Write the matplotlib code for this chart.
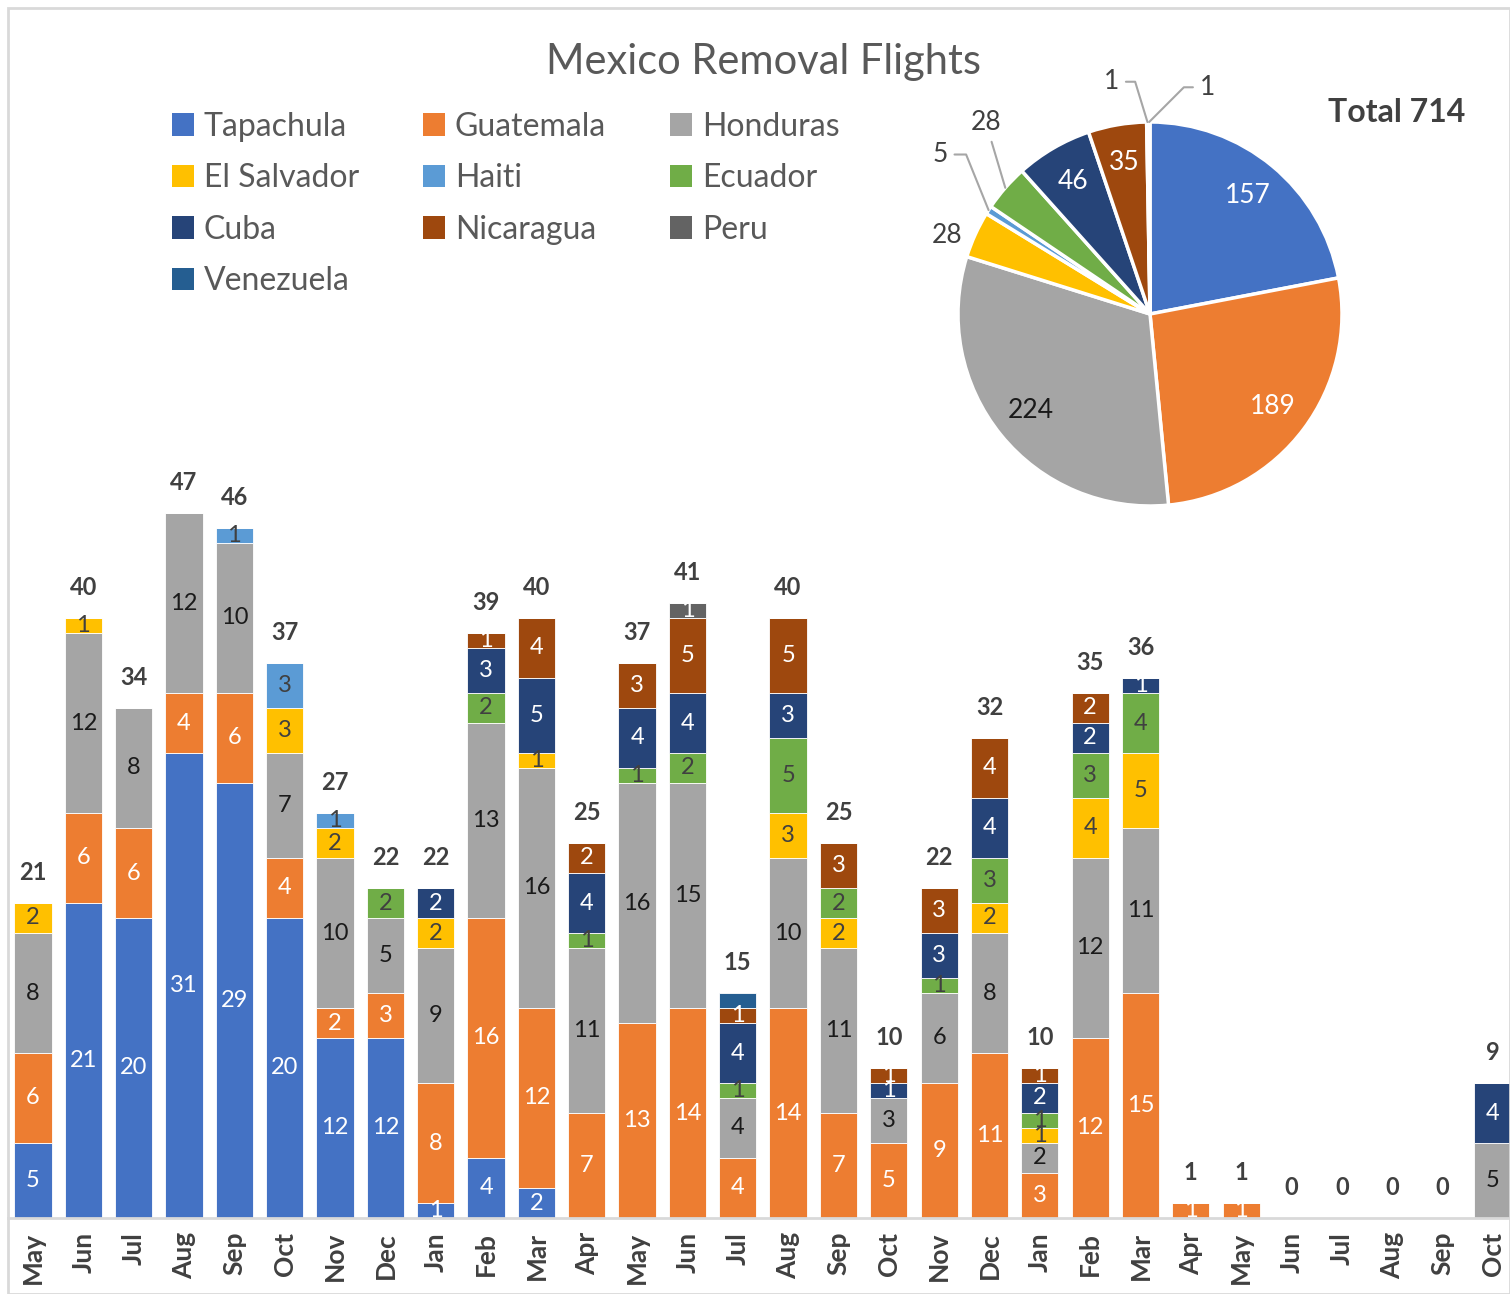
import matplotlib
matplotlib.use('Agg')
import matplotlib.pyplot as plt
import numpy as np
from matplotlib.patches import Patch, Rectangle

plt.rcParams['font.family'] = ['Lato', 'DejaVu Sans']

months = ['May', 'Jun', 'Jul', 'Aug', 'Sep', 'Oct', 'Nov', 'Dec', 'Jan', 'Feb', 'Mar', 'Apr',
          'May', 'Jun', 'Jul', 'Aug', 'Sep', 'Oct', 'Nov', 'Dec', 'Jan', 'Feb', 'Mar', 'Apr',
          'May', 'Jun', 'Jul', 'Aug', 'Sep', 'Oct']

tapachula   = [5, 21, 20, 31, 29, 20, 12, 12, 1, 4, 2, 0, 0, 0, 0, 0, 0, 0, 0, 0, 0, 0, 0, 0, 0, 0, 0, 0, 0, 0]
guatemala   = [6, 6, 6, 4, 6, 4, 2, 3, 8, 16, 12, 7, 13, 14, 4, 14, 7, 5, 9, 11, 3, 12, 15, 1, 1, 0, 0, 0, 0, 0]
honduras    = [8, 12, 8, 12, 10, 7, 10, 5, 9, 13, 16, 11, 16, 15, 4, 10, 11, 3, 6, 8, 2, 12, 11, 0, 0, 0, 0, 0, 0, 5]
el_salvador = [2, 1, 0, 0, 0, 3, 2, 0, 2, 0, 1, 0, 0, 0, 0, 3, 2, 0, 0, 2, 1, 4, 5, 0, 0, 0, 0, 0, 0, 0]
haiti       = [0, 0, 0, 0, 1, 3, 1, 0, 0, 0, 0, 0, 0, 0, 0, 0, 0, 0, 0, 0, 0, 0, 0, 0, 0, 0, 0, 0, 0, 0]
ecuador     = [0, 0, 0, 0, 0, 0, 0, 2, 0, 2, 0, 1, 1, 2, 1, 5, 2, 0, 1, 3, 1, 3, 4, 0, 0, 0, 0, 0, 0, 0]
cuba        = [0, 0, 0, 0, 0, 0, 0, 0, 2, 3, 5, 4, 4, 4, 4, 3, 0, 1, 3, 4, 2, 2, 1, 0, 0, 0, 0, 0, 0, 4]
nicaragua   = [0, 0, 0, 0, 0, 0, 0, 0, 0, 1, 4, 2, 3, 5, 1, 5, 3, 1, 3, 4, 1, 2, 0, 0, 0, 0, 0, 0, 0, 0]
peru        = [0, 0, 0, 0, 0, 0, 0, 0, 0, 0, 0, 0, 0, 1, 0, 0, 0, 0, 0, 0, 0, 0, 0, 0, 0, 0, 0, 0, 0, 0]
venezuela   = [0, 0, 0, 0, 0, 0, 0, 0, 0, 0, 0, 0, 0, 0, 1, 0, 0, 0, 0, 0, 0, 0, 0, 0, 0, 0, 0, 0, 0, 0]

names = ['Tapachula', 'Guatemala', 'Honduras', 'El Salvador', 'Haiti',
         'Ecuador', 'Cuba', 'Nicaragua', 'Peru', 'Venezuela']
series = [tapachula, guatemala, honduras, el_salvador, haiti,
          ecuador, cuba, nicaragua, peru, venezuela]
colors = ['#4472C4', '#ED7D31', '#A5A5A5', '#FFC000', '#5B9BD5',
          '#70AD47', '#264478', '#9E480E', '#636363', '#255E91']
label_colors = ['white', 'white', '#1a1a1a', '#404040', '#404040',
                '#404040', 'white', 'white', 'white', None]

W, H = 1510, 1294
fig = plt.figure(figsize=(W / 100, H / 100), dpi=100)

# outer frame
fig.patches.append(Rectangle((8 / W, 0), 1 - 8 / W, 1 - 8 / H, transform=fig.transFigure,
                             fill=False, edgecolor='#d9d9d9', linewidth=2))

# ---- stacked bars
ax = fig.add_axes([8 / W, 76 / H, 1502 / W, 750 / H])
x = np.arange(len(months))
bottom = np.zeros(len(months))
for vals, name, col, lc in zip(series, names, colors, label_colors):
    vals = np.array(vals)
    ax.bar(x, vals, 0.74, bottom=bottom, color=col, edgecolor='white', linewidth=0.6, label=name)
    if lc is not None:
        for xi, v, b in zip(x, vals, bottom):
            if v > 0:
                ax.text(xi, b + v / 2, str(v), ha='center', va='center',
                        fontsize=17, color=lc)
    bottom += vals

for xi, t in zip(x, bottom):
    ax.annotate(str(int(t)), (xi, t), xytext=(0, 22), textcoords='offset points',
                ha='center', va='center', fontsize=17, fontweight='bold', color='#404040')

ax.set_xlim(-0.497, 29.34)
ax.set_ylim(0, 50)
ax.set_xticks(x)
ax.set_xticklabels(months, rotation=90, fontsize=19, fontweight='bold', color='#404040')
ax.tick_params(axis='x', length=0, pad=10)
ax.set_yticks([])
for s in ['top', 'right', 'left']:
    ax.spines[s].set_visible(False)
ax.spines['bottom'].set_color('#d9d9d9')
ax.spines['bottom'].set_linewidth(2)
ax.patch.set_alpha(0)

# legend in row-major order
handles = [Patch(facecolor=c) for c in colors]
order = [0, 3, 6, 9, 1, 4, 7, 2, 5, 8]
fig.legend([handles[i] for i in order], [names[i] for i in order],
           loc='upper left', bbox_to_anchor=(143 / W, 1 - 83 / H), ncol=3,
           frameon=False, fontsize=23, labelcolor='#595959',
           handlelength=0.7, handleheight=0.7, handletextpad=0.3,
           columnspacing=2.0, labelspacing=0.67)

fig.text(764 / W, 1 - 62 / H, 'Mexico Removal Flights', ha='center', va='center',
         fontsize=30, color='#595959')
fig.text(1397 / W, 1 - 113 / H, 'Total 714', ha='center', va='center',
         fontsize=23, fontweight='bold', color='#404040')

# ---- pie
totals = [sum(s) for s in series]
pax = fig.add_axes([(1150 - 200) / W, 1 - (314 + 200) / H, 400 / W, 400 / H])
wedges, _ = pax.pie(totals, colors=colors, startangle=90, counterclock=False, radius=1,
                    wedgeprops=dict(edgecolor='white', linewidth=2.5))
pax.set_xlim(-200 / 192, 200 / 192)
pax.set_ylim(-200 / 192, 200 / 192)
pax.set_aspect('equal')
pax.axis('off')

inside_colors = {0: 'white', 1: 'white', 2: '#1a1a1a', 6: 'white', 7: 'white'}
# label offsets (points) from the wedge edge; leader line style per label
outside = {3: ((-20, -1), None),
           4: ((-35, 40), 'angle,angleA=0,angleB=112'),
           5: ((-14, 47), 'arc3'),
           8: ((-26, 29), 'angle,angleA=0,angleB=107'),
           9: ((42, 25), 'angle,angleA=0,angleB=45')}
for i, w in enumerate(wedges):
    ang = np.deg2rad((w.theta1 + w.theta2) / 2)
    cx, cy = np.cos(ang), np.sin(ang)
    if i in inside_colors:
        pax.text(0.8 * cx, 0.8 * cy, str(totals[i]), ha='center', va='center',
                 fontsize=19, color=inside_colors[i])
        continue
    (dx, dy), conn = outside[i]
    arrow = None
    if conn is not None:
        arrow = dict(arrowstyle='-', color='#a6a6a6', lw=1.5, shrinkA=3, shrinkB=0,
                     connectionstyle=conn)
    pax.annotate(str(totals[i]), (cx, cy), xytext=(dx, dy), textcoords='offset points',
                 ha='center', va='center', fontsize=19, color='#404040', arrowprops=arrow)

fig.savefig('out.png', dpi=100)
